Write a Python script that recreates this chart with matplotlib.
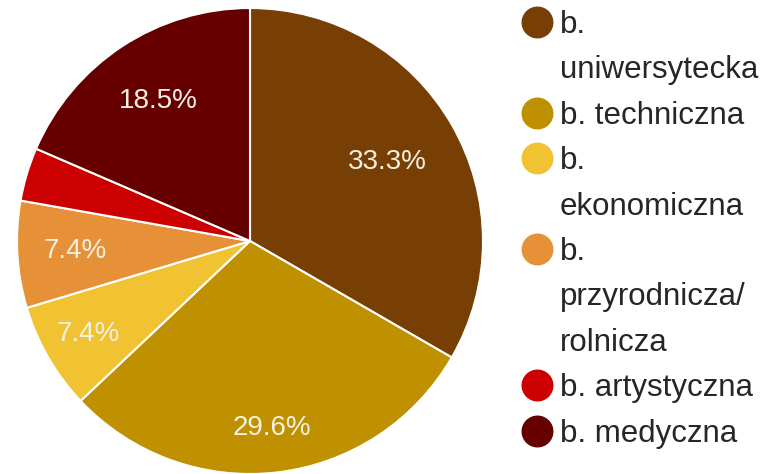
import matplotlib.pyplot as plt
import numpy as np

plt.rcParams["font.family"] = ["Liberation Sans", "DejaVu Sans"]

categories = [
    "b.\nuniwersytecka",
    "b. techniczna",
    "b.\nekonomiczna",
    "b.\nprzyrodnicza/\nrolnicza",
    "b. artystyczna",
    "b. medyczna",
]
counts = [9, 8, 2, 2, 1, 5]
colors = ["#783f04", "#bf9000", "#f1c232", "#e69138", "#cc0000", "#660000"]

# how far out each percent label sits (fraction of radius)
label_r = [0.68, 0.81, 0.80, 0.75, 0.75, 0.72]

fig = plt.figure(figsize=(7.69, 4.74), dpi=100)
ax = fig.add_axes([17 / 769, 0, 466 / 769, 466 / 474])

total = sum(counts)
wedges, _ = ax.pie(
    counts,
    colors=colors,
    startangle=90,
    counterclock=False,
    wedgeprops=dict(edgecolor="white", linewidth=1.5),
)
ax.set_xlim(-1, 1)
ax.set_ylim(-1, 1)
ax.set_aspect("equal")

for w, c, r in zip(wedges, counts, label_r):
    pct = 100 * c / total
    if pct < 5:
        continue
    ang = np.deg2rad((w.theta1 + w.theta2) / 2)
    ax.text(
        r * np.cos(ang),
        r * np.sin(ang),
        f"{pct:.1f}%",
        ha="center",
        va="center",
        fontsize=20,
        color="#f5f0e4",
    )

# legend drawn by hand in pixel coordinates
lax = fig.add_axes([500 / 769, 0, 269 / 769, 1])
lax.set_xlim(0, 269)
lax.set_ylim(474, 0)
lax.axis("off")

line = 0
for cat, col in zip(categories, colors):
    lax.plot(37, 22 + 45.4 * line, "o", markersize=22, color=col)
    for part in cat.split("\n"):
        lax.text(60, 22 + 45.4 * line + 11, part, va="baseline", ha="left",
                 fontsize=22.5, color="#262626")
        line += 1

fig.savefig("out.png", dpi=100)
